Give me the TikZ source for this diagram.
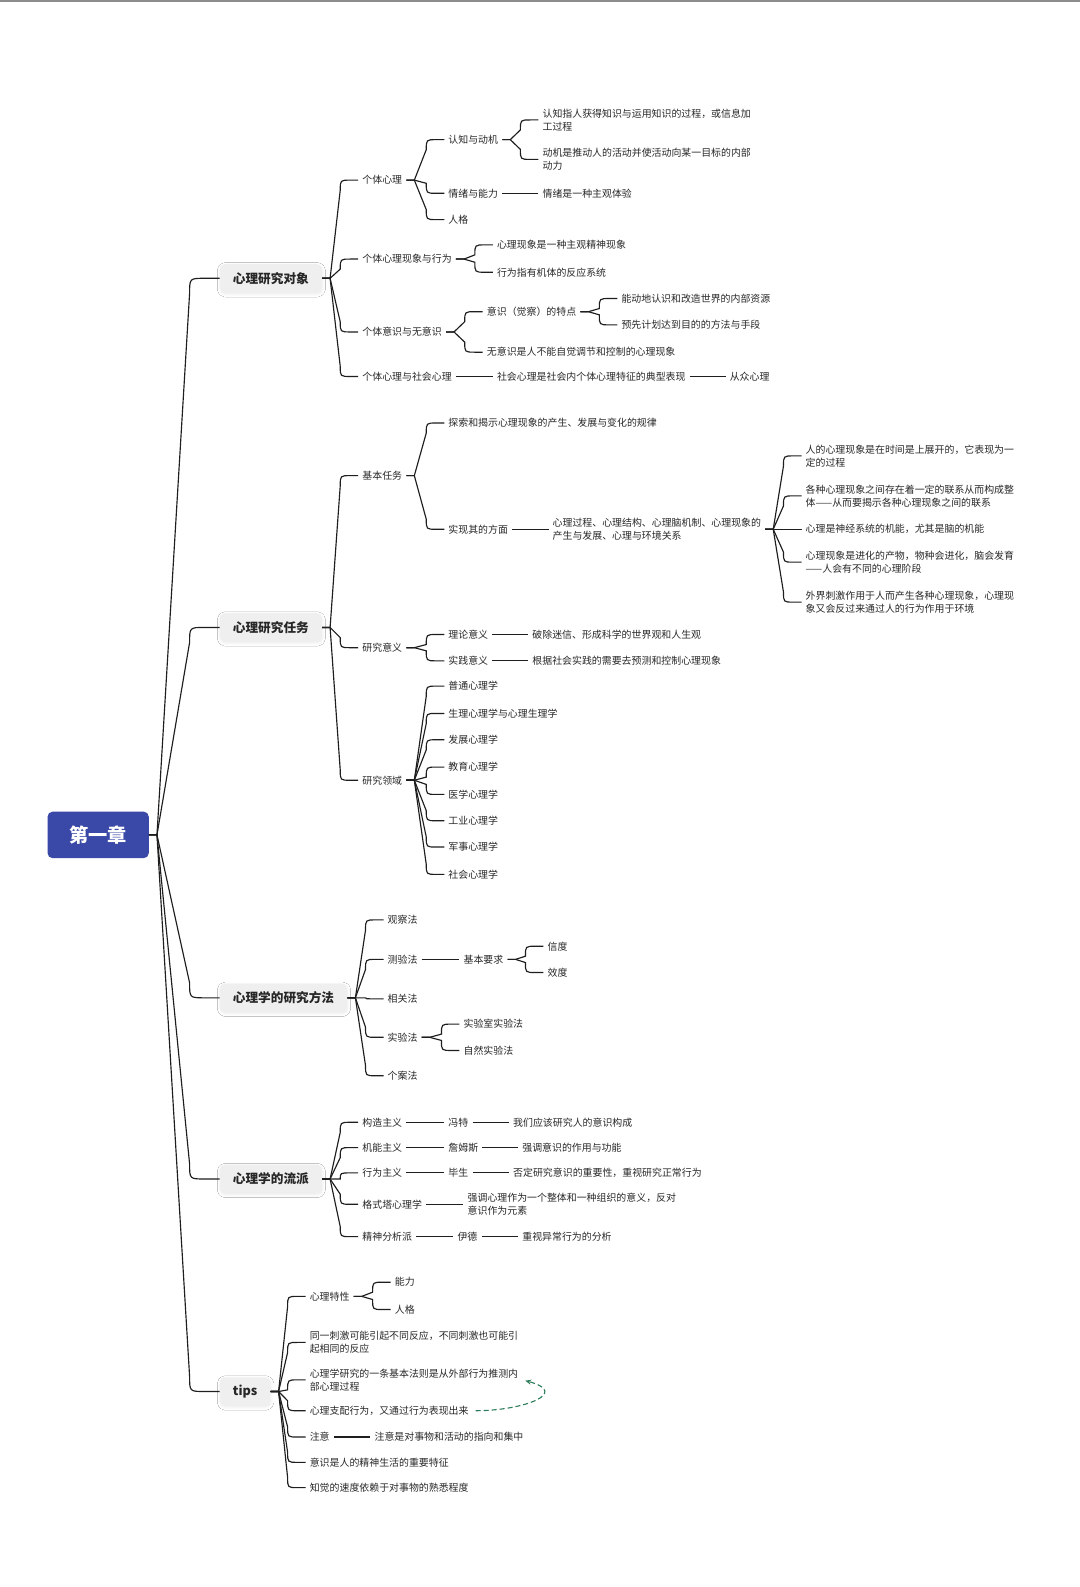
\documentclass[tikz,border=0pt]{standalone}
\usepackage{fontspec}
\setmainfont{Noto Sans CJK SC}
\usetikzlibrary{calc,arrows.meta,shadows.blur}
\definecolor{rootc}{RGB}{58,73,168}
\definecolor{boxc}{RGB}{239,239,239}
\definecolor{linec}{RGB}{30,30,30}
\definecolor{textc}{RGB}{40,40,40}
\definecolor{greenc}{RGB}{46,125,90}
\tikzset{
  elbow/.style n args={3}{to path={
    let \p1=(\tikztostart), \p2=(\tikztotarget),
        \n1={max(min(\y2-\y1,#3),-#3)}
    in -- ({\x1+#1pt},\y1)
       -- ({\x2-#2pt-#3pt},{\y2-(\n1)*1pt})
       .. controls ({\x2-#2pt-#3pt},\y2) .. ({\x2-#2pt},\y2)
       -- (\tikztotarget)}},
  eroot/.style={elbow={8}{15}{15}},
  ebr/.style={elbow={8}{8}{10}},
  conn/.style={draw=linec,line width=1.15pt},
  t/.style={anchor=west,align=left,text=textc,inner xsep=4pt,inner ysep=2pt,
            font=\fontsize{9.92}{13.16}\selectfont},
  mainbox/.style={anchor=west,fill=boxc,rounded corners=5pt,text=black!85,
            font=\fontsize{12.65}{15}\selectfont\bfseries,minimum height=28.4pt,inner xsep=13.1pt,
            blur shadow={shadow xshift=0.5pt,shadow yshift=-1.5pt,shadow blur radius=3pt,shadow opacity=8}},
  rootbox/.style={fill=rootc,text=white,rounded corners=5pt,minimum width=101.2pt,
            minimum height=46.5pt,font=\fontsize{19.2}{22}\selectfont\bfseries},
}
\begin{document}
\begin{tikzpicture}[x=1.012pt,y=-1.012pt]
\useasboundingbox (0,0) rectangle (1067.2,1568.2);
\fill[white] (0,0) rectangle (1067.2,1568.2);
\fill[black!45] (0,0) rectangle (1067.2,2);

% root and main branches
\node[rootbox] (root) at (97,825) {第一章};
\node[mainbox] (m1) at (217,275) {心理研究对象};
\node[mainbox] (m2) at (217,620) {心理研究任务};
\node[mainbox] (m3) at (217,986) {心理学的研究方法};
\node[mainbox] (m4) at (217,1165) {心理学的流派};
\node[mainbox] (m5) at (217,1375) {tips};

% branch 1
\node[t] (a1) at (354,178) {个体心理};
\node[t] (a11) at (439,138) {认知与动机};
\node[t] (a111) at (532,118.5) {认知指人获得知识与运用知识的过程，或信息加\\工过程};
\node[t] (a112) at (532,157.5) {动机是推动人的活动并使活动向某一目标的内部\\动力};
\node[t] (a12) at (439,191) {情绪与能力};
\node[t] (a121) at (532,191) {情绪是一种主观体验};
\node[t] (a13) at (439,217) {人格};
\node[t] (a2) at (354,256) {个体心理现象与行为};
\node[t] (a21) at (487,242) {心理现象是一种主观精神现象};
\node[t] (a22) at (487,269) {行为指有机体的反应系统};
\node[t] (a3) at (354,328) {个体意识与无意识};
\node[t] (a31) at (477,308) {意识（觉察）的特点};
\node[t] (a311) at (610,295) {能动地认识和改造世界的内部资源};
\node[t] (a312) at (610,321) {预先计划达到目的的方法与手段};
\node[t] (a32) at (477,348) {无意识是人不能自觉调节和控制的心理现象};
\node[t] (a4) at (354,372) {个体心理与社会心理};
\node[t] (a41) at (487,372) {社会心理是社会内个体心理特征的典型表现};
\node[t] (a411) at (717,372) {从众心理};

% branch 2
\node[t] (b1) at (354,470) {基本任务};
\node[t] (b11) at (439,418) {探索和揭示心理现象的产生、发展与变化的规律};
\node[t] (b12) at (439,523) {实现其的方面};
\node[t] (b121) at (542,523) {心理过程、心理结构、心理脑机制、心理现象的\\产生与发展、心理与环境关系};
\node[t] (b1211) at (792,450.5) {人的心理现象是在时间是上展开的，它表现为一\\定的过程};
\node[t] (b1212) at (792,490) {各种心理现象之间存在着一定的联系从而构成整\\体——从而要揭示各种心理现象之间的联系};
\node[t] (b1213) at (792,523) {心理是神经系统的机能，尤其是脑的机能};
\node[t] (b1214) at (792,555.5) {心理现象是进化的产物，物种会进化，脑会发育\\——人会有不同的心理阶段};
\node[t] (b1215) at (792,595) {外界刺激作用于人而产生各种心理现象，心理现\\象又会反过来通过人的行为作用于环境};
\node[t] (b2) at (354,640) {研究意义};
\node[t] (b21) at (439,627) {理论意义};
\node[t] (b211) at (522,627) {破除迷信、形成科学的世界观和人生观};
\node[t] (b22) at (439,653) {实践意义};
\node[t] (b221) at (522,653) {根据社会实践的需要去预测和控制心理现象};
\node[t] (b3) at (354,771) {研究领域};
\node[t] (b31) at (439,678) {普通心理学};
\node[t] (b32) at (439,705) {生理心理学与心理生理学};
\node[t] (b33) at (439,731) {发展心理学};
\node[t] (b34) at (439,758) {教育心理学};
\node[t] (b35) at (439,785) {医学心理学};
\node[t] (b36) at (439,811) {工业心理学};
\node[t] (b37) at (439,837) {军事心理学};
\node[t] (b38) at (439,864) {社会心理学};

% branch 3
\node[t] (c1) at (379,909) {观察法};
\node[t] (c2) at (379,948) {测验法};
\node[t] (c21) at (454,948) {基本要求};
\node[t] (c211) at (537,935) {信度};
\node[t] (c212) at (537,961) {效度};
\node[t] (c3) at (379,987) {相关法};
\node[t] (c4) at (379,1025) {实验法};
\node[t] (c41) at (454,1012) {实验室实验法};
\node[t] (c42) at (454,1038) {自然实验法};
\node[t] (c5) at (379,1063) {个案法};

% branch 4
\node[t] (d1) at (354,1109) {构造主义};
\node[t] (d11) at (439,1109) {冯特};
\node[t] (d111) at (503,1109) {我们应该研究人的意识构成};
\node[t] (d2) at (354,1134) {机能主义};
\node[t] (d21) at (439,1134) {詹姆斯};
\node[t] (d211) at (512,1134) {强调意识的作用与功能};
\node[t] (d3) at (354,1159) {行为主义};
\node[t] (d31) at (439,1159) {毕生};
\node[t] (d311) at (503,1159) {否定研究意识的重要性，重视研究正常行为};
\node[t] (d4) at (354,1190) {格式塔心理学};
\node[t] (d41) at (458,1190) {强调心理作为一个整体和一种组织的意义，反对\\意识作为元素};
\node[t] (d5) at (354,1222) {精神分析派};
\node[t] (d51) at (448,1222) {伊德};
\node[t] (d511) at (512,1222) {重视异常行为的分析};

% branch 5
\node[t] (e1) at (302,1281) {心理特性};
\node[t] (e11) at (386,1267) {能力};
\node[t] (e12) at (386,1294) {人格};
\node[t] (e2) at (302,1326.5) {同一刺激可能引起不同反应，不同刺激也可能引\\起相同的反应};
\node[t] (e3) at (302,1363.5) {心理学研究的一条基本法则是从外部行为推测内\\部心理过程};
\node[t] (e4) at (302,1394) {心理支配行为，又通过行为表现出来};
\node[t] (e5) at (302,1420) {注意};
\node[t] (e51) at (366,1420) {注意是对事物和活动的指向和集中};
\node[t] (e6) at (302,1445) {意识是人的精神生活的重要特征};
\node[t] (e7) at (302,1470) {知觉的速度依赖于对事物的熟悉程度};

% connectors
\foreach \c in {m1,m2,m3,m4,m5} \draw[conn] (root.east) to[eroot] (\c.west);
\foreach \c in {a1,a2,a3,a4} \draw[conn] (m1.east) to[ebr] (\c.west);
\foreach \c in {a11,a12,a13} \draw[conn] (a1.east) to[ebr] (\c.west);
\foreach \c in {a111,a112} \draw[conn] (a11.east) to[ebr] (\c.west);
\draw[conn] (a12.east) -- (a121.west);
\foreach \c in {a21,a22} \draw[conn] (a2.east) to[ebr] (\c.west);
\foreach \c in {a31,a32} \draw[conn] (a3.east) to[ebr] (\c.west);
\foreach \c in {a311,a312} \draw[conn] (a31.east) to[ebr] (\c.west);
\draw[conn] (a4.east) -- (a41.west);
\draw[conn] (a41.east) -- (a411.west);

\foreach \c in {b1,b2,b3} \draw[conn] (m2.east) to[ebr] (\c.west);
\foreach \c in {b11,b12} \draw[conn] (b1.east) to[ebr] (\c.west);
\draw[conn] (b12.east) -- (b121.west);
\foreach \c in {b1211,b1212,b1213,b1214,b1215} \draw[conn] (b121.east) to[ebr] (\c.west);
\foreach \c in {b21,b22} \draw[conn] (b2.east) to[ebr] (\c.west);
\draw[conn] (b21.east) -- (b211.west);
\draw[conn] (b22.east) -- (b221.west);
\foreach \c in {b31,b32,b33,b34,b35,b36,b37,b38} \draw[conn] (b3.east) to[ebr] (\c.west);

\foreach \c in {c1,c2,c3,c4,c5} \draw[conn] (m3.east) to[ebr] (\c.west);
\draw[conn] (c2.east) -- (c21.west);
\foreach \c in {c211,c212} \draw[conn] (c21.east) to[ebr] (\c.west);
\foreach \c in {c41,c42} \draw[conn] (c4.east) to[ebr] (\c.west);

\foreach \c in {d1,d2,d3,d4,d5} \draw[conn] (m4.east) to[ebr] (\c.west);
\draw[conn] (d1.east) -- (d11.west);
\draw[conn] (d11.east) -- (d111.west);
\draw[conn] (d2.east) -- (d21.west);
\draw[conn] (d21.east) -- (d211.west);
\draw[conn] (d3.east) -- (d31.west);
\draw[conn] (d31.east) -- (d311.west);
\draw[conn] (d4.east) -- (d41.west);
\draw[conn] (d5.east) -- (d51.west);
\draw[conn] (d51.east) -- (d511.west);

\foreach \c in {e1,e2,e3,e4,e5,e6,e7} \draw[conn] (m5.east) to[ebr] (\c.west);
\foreach \c in {e11,e12} \draw[conn] (e1.east) to[ebr] (\c.west);
\draw[conn] (e5.east) -- (e51.west);

% dashed green relation
\draw[greenc,line width=1.1pt,dash pattern=on 5pt off 3pt,-{Stealth[length=6pt,width=5pt]},
      shorten >=3pt,shorten <=3pt]
  (e4.east) to[out=0,in=-15,looseness=2.2] (e3.east);
\end{tikzpicture}
\end{document}
